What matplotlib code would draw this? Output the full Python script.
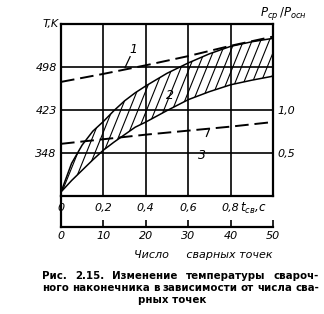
import matplotlib
matplotlib.use("Agg")
import matplotlib.pyplot as plt
from matplotlib.collections import LineCollection
import numpy as np

# ---- data ----
n_band = [0, 2.5, 5, 7.5, 10, 12.5, 15, 17.5, 20, 25, 30, 35, 40, 45, 50]
band_upper = [280, 330, 362, 386, 403, 422, 439, 453, 465, 487, 505, 521, 534, 542, 548]
band_lower = [280, 300, 318, 336, 353, 367, 380, 393, 402, 422, 441, 455, 467, 475, 482]
n_lines = [0, 10, 20, 30, 40, 50]
curve1 = [472, 486, 501, 517, 535, 551]
curve3 = [364, 372, 380, 387, 394, 402]

left_ticks = [348, 423, 498]
left_labels = ["348", "423", "498"]
right_ticks = [0.5, 1.0]
right_labels = ["0,5", "1,0"]
time_ticks = [0, 10, 20, 30, 40]
time_labels = ["0", "0,2", "0,4", "0,6", "0,8"]
count_ticks = [0, 10, 20, 30, 40, 50]
count_labels = ["0", "10", "20", "30", "40", "50"]
caption1 = ["Рис.", "2.15.", "Изменение", "температуры", "свароч-"]
caption2 = ["ного", "наконечника", "в", "зависимости", "от", "числа", "сва-"]
caption3 = "рных точек"

W, H = 324, 314
fig = plt.figure(figsize=(W / 100, H / 100), dpi=100)
fig.patch.set_facecolor("white")

x0p, x1p, y0p, y1p = 61, 273, 196, 24
ax = fig.add_axes([x0p / W, 1 - y0p / H, (x1p - x0p) / W, (y0p - y1p) / H])
ax.set_xlim(0, 50)
ax.set_ylim(273, 573)
for s in ax.spines.values():
    s.set_linewidth(1.6)

# grid
for gx in [10, 20, 30, 40]:
    ax.axvline(gx, color="k", lw=1.2, zorder=1)
for gy in left_ticks:
    ax.axhline(gy, color="k", lw=1.2, zorder=1)

# band 2 with steep hatching
poly = ax.fill_between(n_band, band_lower, band_upper, facecolor="none",
                       edgecolor="k", lw=1.1, zorder=3)
ax.plot([n_band[-1], n_band[-1]], [band_lower[-1], band_upper[-1]],
        color="k", lw=1.1, zorder=3)
ax_w, ax_h = (x1p - x0p), (y0p - y1p)
slope = np.tan(np.radians(68))
dx = (ax_h / slope) / ax_w
step = 8.6 / ax_w
segs = [[(s, 0), (s + dx, 1)] for s in np.arange(-dx, 1.0, step)]
lc = LineCollection(segs, colors="k", linewidths=0.8, transform=ax.transAxes, zorder=2)
ax.add_collection(lc)
lc.set_clip_path(poly.get_paths()[0], ax.transData)

# dashed curves
ax.plot(n_lines, curve1, color="k", lw=1.4, ls=(0, (7, 3)), zorder=4)
ax.plot(n_lines, curve3, color="k", lw=1.4, ls=(0, (7, 3)), zorder=4)

# curve labels with leaders
lab = dict(fontsize=9, style="italic", ha="center", va="center")
ax.text(17.0, 528, "1", **lab)
ax.plot([15.1, 16.3], [497, 516], color="k", lw=0.9)
ax.text(25.7, 449, "2", **lab)
ax.text(33.3, 344, "3", **lab)
ax.plot([34.3, 35.0], [377, 390], color="k", lw=0.9)

# left axis
ax.set_yticks(left_ticks)
ax.set_yticklabels(left_labels, fontsize=8, style="italic")
ax.tick_params(axis="y", length=0, pad=3)
# time axis
ax.set_xticks(time_ticks)
ax.set_xticklabels(time_labels, fontsize=8, style="italic")
ax.tick_params(axis="x", length=0, pad=5)
ax.text(42.2, -0.07, r"$t_{св}$,с", transform=ax.get_xaxis_transform(),
        fontsize=8.5, style="italic", ha="left", va="center")

# right axis
ax2 = ax.twinx()
ax2.set_ylim(0, 2)
ax2.set_yticks(right_ticks)
ax2.set_yticklabels(right_labels, fontsize=8, style="italic")
ax2.tick_params(axis="y", length=0, pad=3)
for s in ax2.spines.values():
    s.set_visible(False)

# number of welds axis
off = -(227 - y0p) / ax_h
sec = ax.secondary_xaxis(off)
sec.set_xticks(count_ticks)
sec.set_xticklabels(count_labels, fontsize=8, style="italic")
sec.tick_params(axis="x", direction="in", length=5, width=1.2, pad=3)
sec.spines["bottom"].set_linewidth(1.6)
ax.plot([0, 0], [0, off], transform=ax.transAxes, clip_on=False, color="k", lw=1.6)
ax.text(1.0, off - 0.16, "Число     сварных точек", transform=ax.transAxes,
        fontsize=8, style="italic", ha="right", va="center")

# axis titles
ax.text(-0.01, 1.0, "T,K", transform=ax.transAxes, fontsize=8, style="italic",
        ha="right", va="center")
fig.text(283 / W, 1 - 14 / H, r"$P_{ср}\,/P_{осн}$", fontsize=8.5, ha="center", va="center")

# caption (justified)
r = fig.canvas.get_renderer()
cap_kw = dict(fontsize=7.4, weight="heavy", va="center")
def justify(words, ypx, xa, xb):
    texts = [fig.text(0, 1 - ypx / H, w, **cap_kw) for w in words]
    widths = [t.get_window_extent(r).width for t in texts]
    gap = (xb - xa - sum(widths)) / (len(words) - 1)
    x = xa
    for t, w in zip(texts, widths):
        t.set_x(x / W)
        x += w + gap

justify(caption1, 276, 42, 319)
justify(caption2, 288, 42, 319)
fig.text(172 / W, 1 - 300 / H, caption3, ha="center", **cap_kw)

fig.savefig("out.png", dpi=100)
